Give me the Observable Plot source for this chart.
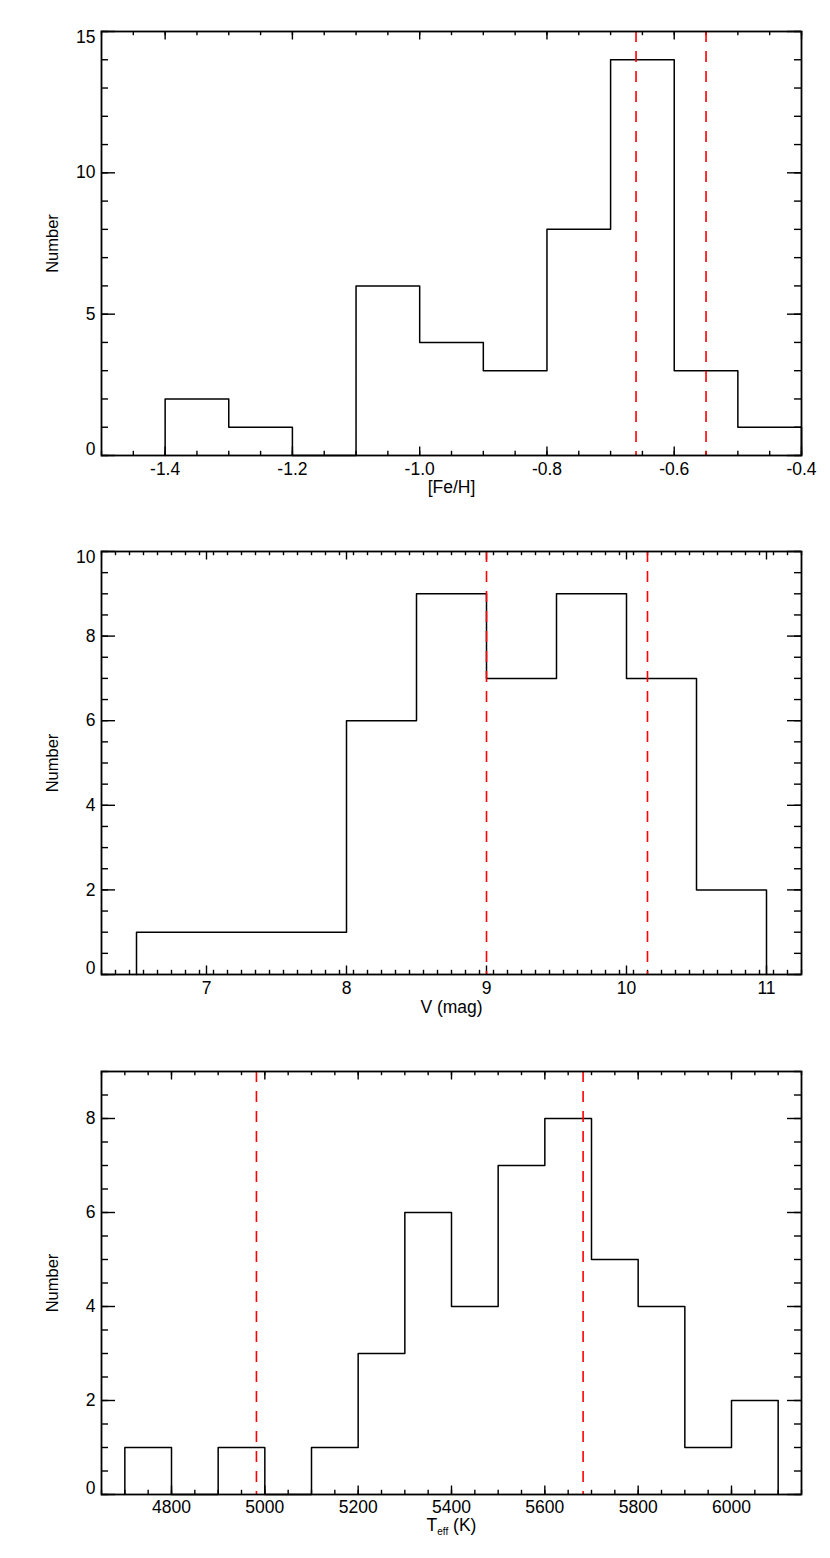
<!DOCTYPE html>
<html>
<head>
<meta charset="utf-8">
<script src="https://cdn.jsdelivr.net/npm/d3@7"></script>
<script src="https://cdn.jsdelivr.net/npm/@observablehq/plot@0.6"></script>
<style>
  html, body { margin: 0; padding: 0; background: #fff; }
  #charts { width: 830px; }
  #charts svg { display: block; }
</style>
</head>
<body>
<div id="charts"></div>
<script>
// ---------- Data ----------
// Panel 1: [Fe/H]
const fehEdges = [-1.4, -1.3, -1.2, -1.1, -1.0, -0.9, -0.8, -0.7, -0.6, -0.5, -0.4];
const fehCounts = [2, 1, 0, 6, 4, 3, 8, 14, 3, 1];
const fehRed = [-0.66, -0.55];
const fehXMajor = [-1.4, -1.2, -1.0, -0.8, -0.6, -0.4];
const fehYMajor = [0, 5, 10, 15];

// Panel 2: V (mag)
const vEdges = [6.5, 7.0, 7.5, 8.0, 8.5, 9.0, 9.5, 10.0, 10.5, 11.0];
const vCounts = [1, 1, 1, 6, 9, 7, 9, 7, 2];
const vRed = [9.0, 10.15];
const vXMajor = [7, 8, 9, 10, 11];
const vYMajor = [0, 2, 4, 6, 8, 10];

// Panel 3: Teff (K)
const tEdges = [4700, 4800, 4900, 5000, 5100, 5200, 5300, 5400, 5500, 5600, 5700, 5800, 5900, 6000, 6100];
const tCounts = [1, 0, 1, 0, 1, 3, 6, 4, 7, 8, 5, 4, 1, 2];
const tRed = [4982, 5682];
const tXMajor = [4800, 5000, 5200, 5400, 5600, 5800, 6000];
const tYMajor = [0, 2, 4, 6, 8];

const FONT = "'Liberation Sans', Arial, Helvetica, sans-serif";
const FS = 17.5;
const FS_Y = 16.5;

function stepPoints(edges, counts) {
  const pts = [{x: edges[0], y: 0}];
  counts.forEach((c, i) => pts.push({x: edges[i], y: c}));
  pts.push({x: edges[edges.length - 1], y: counts[counts.length - 1]});
  pts.push({x: edges[edges.length - 1], y: 0});
  return pts;
}

function minorTicks(domain, step) {
  const out = [];
  const n = Math.round((domain[1] - domain[0]) / step);
  for (let i = 0; i <= n; i++) out.push(+(domain[0] + i * step).toFixed(6));
  return out;
}

function panel(cfg) {
  const W = 830;
  const mL = 101, mR = 29;
  const frameW = W - mL - mR;
  const frameH = cfg.height - cfg.mt - cfg.mb;
  const xMinor = minorTicks(cfg.xDomain, cfg.xMinorStep);
  const yMinor = minorTicks([cfg.yDomain[0], cfg.yDomain[1]], cfg.yMinorStep);
  const xMaj = 8.5, xMin = 4.2, yMaj = 14, yMin = 7;
  const tickStyle = {stroke: "black", strokeWidth: 1.4};
  const yMax = cfg.yDomain[1], yLo = cfg.yDomain[0];
  const yMid = cfg.yMajor.filter(d => d !== yMax && d !== yLo);
  const yTop = cfg.yMajor.filter(d => d === yMax);
  const yBot = cfg.yMajor.filter(d => d === yLo);
  const txt = {fontSize: FS, fontFamily: FONT, fill: "black"};

  const svg = Plot.plot({
    width: W,
    height: cfg.height,
    marginLeft: mL,
    marginRight: mR,
    marginTop: cfg.mt,
    marginBottom: cfg.mb,
    style: {fontFamily: FONT, fontSize: FS + "px", background: "white", overflow: "visible"},
    x: {domain: cfg.xDomain, axis: null},
    y: {domain: cfg.yDomain, axis: null},
    marks: [
      // minor ticks x (bottom & top)
      Plot.tickX(xMinor, {x: d => d, insetTop: frameH - xMin, ...tickStyle}),
      Plot.tickX(xMinor, {x: d => d, insetBottom: frameH - xMin, ...tickStyle}),
      // major ticks x
      Plot.tickX(cfg.xMajor, {x: d => d, insetTop: frameH - xMaj, ...tickStyle}),
      Plot.tickX(cfg.xMajor, {x: d => d, insetBottom: frameH - xMaj, ...tickStyle}),
      // minor ticks y (left & right)
      Plot.tickY(yMinor, {y: d => d, insetRight: frameW - yMin, ...tickStyle}),
      Plot.tickY(yMinor, {y: d => d, insetLeft: frameW - yMin, ...tickStyle}),
      // major ticks y
      Plot.tickY(cfg.yMajor, {y: d => d, insetRight: frameW - yMaj, ...tickStyle}),
      Plot.tickY(cfg.yMajor, {y: d => d, insetLeft: frameW - yMaj, ...tickStyle}),
      // histogram
      Plot.line(stepPoints(cfg.edges, cfg.counts), {x: "x", y: "y", curve: "step-after", stroke: "black", strokeWidth: 1.5}),
      // red dashed lines
      Plot.ruleX(cfg.red, {x: d => d, stroke: "#ff0000", strokeWidth: 1.6, strokeDasharray: "11,9"}),
      // frame
      Plot.frame({stroke: "black", strokeWidth: 1.8}),
      // x tick labels
      Plot.text(cfg.xMajor, {x: d => d, frameAnchor: "bottom", dy: cfg.xLabDy, text: cfg.xFmt, textAnchor: "middle", ...txt}),
      // y tick labels
      Plot.text(yMid, {y: d => d, frameAnchor: "left", dx: -6, text: d => String(d), textAnchor: "end", ...txt}),
      Plot.text(yTop, {y: d => d, frameAnchor: "left", dx: -6, dy: 5.5, text: d => String(d), textAnchor: "end", ...txt}),
      Plot.text(yBot, {y: d => d, frameAnchor: "left", dx: -6, dy: -6, text: d => String(d), textAnchor: "end", ...txt}),
      // axis titles
      Plot.text([cfg.xTitle], {frameAnchor: "bottom", dy: cfg.xTitleDy, text: d => d, textAnchor: "middle", className: "xtitle", ...txt}),
      Plot.text(["Number"], {frameAnchor: "left", dx: -49, rotate: -90, text: d => d, textAnchor: "middle", fontSize: FS_Y, fontFamily: FONT, fill: "black"})
    ]
  });
  return svg;
}

const root = document.getElementById("charts");

root.appendChild(panel({
  height: 517, mt: 31, mb: 62,
  xDomain: [-1.5, -0.4], yDomain: [0, 15],
  xMinorStep: 0.05, yMinorStep: 1,
  xMajor: fehXMajor, yMajor: fehYMajor,
  edges: fehEdges, counts: fehCounts, red: fehRed,
  xFmt: d => d.toFixed(1), xLabDy: 19,
  xTitle: "[Fe/H]", xTitleDy: 37
}));

root.appendChild(panel({
  height: 517, mt: 34, mb: 60,
  xDomain: [6.25, 11.25], yDomain: [0, 10],
  xMinorStep: 0.1, yMinorStep: 0.5,
  xMajor: vXMajor, yMajor: vYMajor,
  edges: vEdges, counts: vCounts, red: vRed,
  xFmt: d => String(d), xLabDy: 19,
  xTitle: "V (mag)", xTitleDy: 38
}));

const p3 = panel({
  height: 524, mt: 37, mb: 64,
  xDomain: [4650, 6150], yDomain: [0, 9],
  xMinorStep: 50, yMinorStep: 0.5,
  xMajor: tXMajor, yMajor: tYMajor,
  edges: tEdges, counts: tCounts, red: tRed,
  xFmt: d => String(d), xLabDy: 18,
  xTitle: "Teff (K)", xTitleDy: 36
});
root.appendChild(p3);

// Subscript for T_eff
d3.select(p3).selectAll(".xtitle text").each(function() {
  const t = d3.select(this);
  t.text(null);
  t.append("tspan").text("T");
  t.append("tspan").attr("dy", 4).attr("font-size", 10).text("eff");
  t.append("tspan").attr("dy", -4).text(" (K)");
});
</script>
</body>
</html>
